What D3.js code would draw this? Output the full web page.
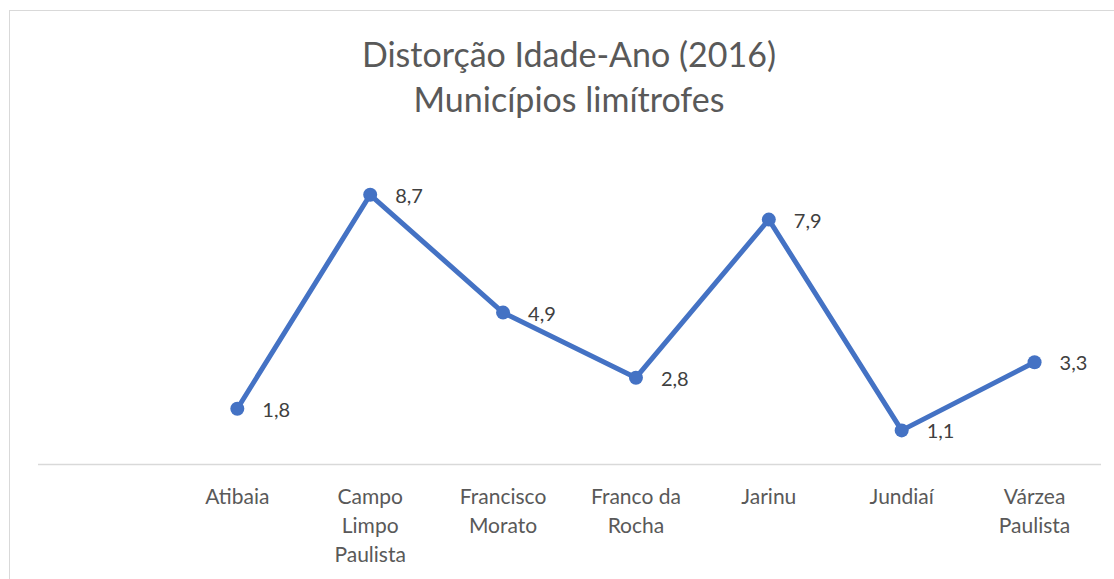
<!DOCTYPE html>
<html>
<head>
<meta charset="utf-8">
<script src="https://cdn.jsdelivr.net/npm/d3@7"></script>
<style>
  body { margin: 0; background: #fff; }
  svg { display: block; font-family: Lato, "Open Sans", sans-serif; }
</style>
</head>
<body>
<svg id="chart"></svg>
<script>
// data
const categories = ["Atibaia", "Campo Limpo Paulista", "Francisco Morato", "Franco da Rocha", "Jarinu", "Jundiaí", "Várzea Paulista"];
const tickLabels = [["Atibaia"], ["Campo", "Limpo", "Paulista"], ["Francisco", "Morato"], ["Franco da", "Rocha"], ["Jarinu"], ["Jundiaí"], ["Várzea", "Paulista"]];
const values = [1.8, 8.7, 4.9, 2.8, 7.9, 1.1, 3.3];
const titleLines = ["Distorção Idade-Ano (2016)", "Municípios limítrofes"];

function drawLine(svg_id, width, height) {
    const svg = d3.select(svg_id)
        .attr("width", width)
        .attr("height", height)
        .attr("viewBox", [0, 0, width, height]);

    // chart border
    svg.append("rect")
        .attr("x", 9.5).attr("y", 10.5)
        .attr("width", width).attr("height", height)
        .attr("fill", "none")
        .attr("stroke", "#d9d9d9");

    // plot area: axis runs 38 -> 1101, first slot left blank
    const axisLeft = 38, axisRight = 1101, axisY = 464.5;
    const step = (axisRight - axisLeft) / 8;
    const x_scale = d3.scaleBand().domain(categories).range([axisLeft + step, axisRight]);
    const y_scale = d3.scaleLinear().domain([0, 10]).range([axisY, axisY - 310]);

    // title
    svg.append("g")
        .selectAll("text")
        .data(titleLines)
        .join("text")
        .attr("x", 569)
        .attr("y", (d, i) => 67 + i * 45)
        .attr("text-anchor", "middle")
        .attr("fill", "#595959")
        .style("font-size", "34px")
        .text(d => d);

    // x axis line
    svg.append("line")
        .attr("x1", axisLeft).attr("x2", axisRight)
        .attr("y1", axisY).attr("y2", axisY)
        .attr("stroke", "#d9d9d9")
        .attr("stroke-width", 1.5);

    // category labels (wrapped)
    const gX = svg.append("g");
    categories.forEach((c, i) => {
        const t = gX.append("text")
            .attr("text-anchor", "middle")
            .attr("fill", "#595959")
            .style("font-size", "21px");
        tickLabels[i].forEach((line, j) => {
            t.append("tspan")
                .attr("x", x_scale(c) + x_scale.bandwidth() / 2)
                .attr("y", 504 + j * 29)
                .text(line);
        });
    });

    const cx = (d, i) => x_scale(categories[i]) + x_scale.bandwidth() / 2;

    // line
    const line = d3.line().x(cx).y(d => y_scale(d));
    svg.append("path")
        .datum(values)
        .attr("d", line)
        .attr("fill", "none")
        .attr("stroke", "#4472c4")
        .attr("stroke-width", 5)
        .attr("stroke-linejoin", "round");

    // markers
    svg.append("g")
        .selectAll("circle")
        .data(values)
        .join("circle")
        .attr("cx", cx)
        .attr("cy", d => y_scale(d))
        .attr("r", 7)
        .attr("fill", "#4472c4");

    // data labels
    svg.append("g")
        .selectAll("text")
        .data(values)
        .join("text")
        .attr("x", (d, i) => cx(d, i) + 25)
        .attr("y", d => y_scale(d) + 8)
        .attr("fill", "#404040")
        .style("font-size", "20px")
        .text(d => d3.format(".1f")(d).replace(".", ","));
}

drawLine("#chart", 1114, 579);
</script>
</body>
</html>
